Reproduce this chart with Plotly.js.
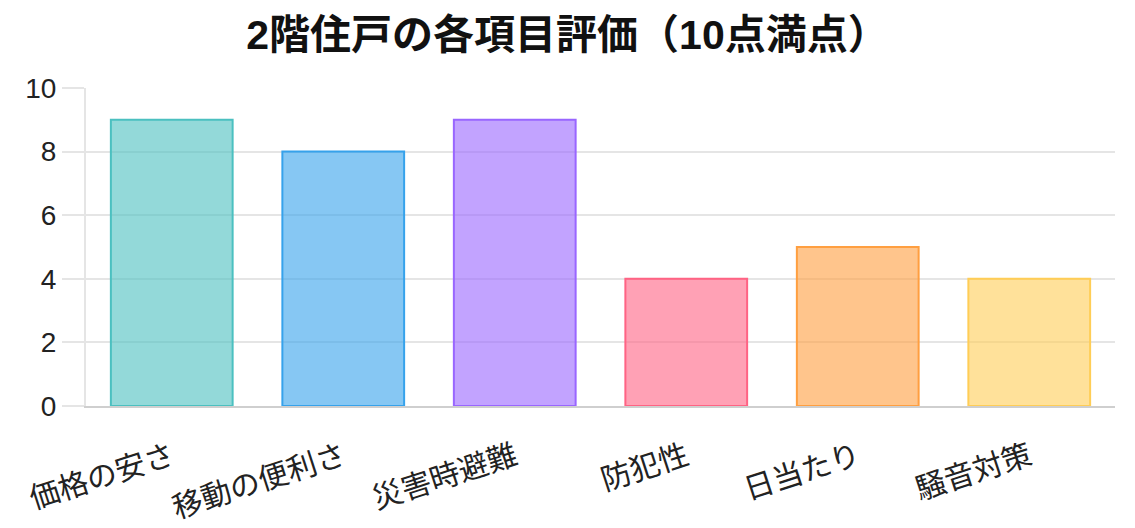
<!DOCTYPE html>
<html>
<head>
<meta charset="utf-8">
<script src="https://cdn.plot.ly/plotly-3.0.1.min.js"></script>
<style>html,body{margin:0;padding:0;background:#fff;}#chart{width:1135px;height:528px;}</style>
</head>
<body>
<div id="chart"></div>
<script>
const categories = ["価格の安さ", "移動の便利さ", "災害時避難", "防犯性", "日当たり", "騒音対策"];
const scores = [9, 8, 9, 4, 5, 4];
const fillColors = ["rgba(75,192,192,0.6)", "rgba(54,162,235,0.6)", "rgba(153,102,255,0.6)", "rgba(255,99,132,0.6)", "rgba(255,159,64,0.6)", "rgba(255,205,86,0.6)"];
const lineColors = ["rgb(75,192,192)", "rgb(54,162,235)", "rgb(153,102,255)", "rgb(255,99,132)", "rgb(255,159,64)", "rgb(255,205,86)"];
const yTicks = [0, 2, 4, 6, 8, 10];

const font = "Liberation Sans, Arial, Noto Sans CJK JP, sans-serif";

Plotly.newPlot("chart", [{
  type: "bar",
  x: categories,
  y: scores,
  marker: {color: fillColors, line: {color: lineColors, width: 2}},
  hoverinfo: "x+y"
}], {
  width: 1135, height: 528,
  margin: {l: 86, r: 20, t: 88, b: 122},
  paper_bgcolor: "#fff", plot_bgcolor: "#fff",
  bargap: 0.29,
  showlegend: false,
  title: {text: "<b>2階住戸の各項目評価（10点満点）</b>", x: 0.5, xanchor: "center", y: 0.934, yanchor: "middle",
          font: {family: font, size: 41, color: "#111"}},
  xaxis: {
    type: "category", range: [-0.5, 5.5],
    tickangle: -18,
    tickfont: {family: font, size: 30, color: "#222"},
    showgrid: false, zeroline: false,
    showline: true, linecolor: "#cfcfcf", linewidth: 2,
    ticks: "outside", ticklen: 20, tickcolor: "rgba(0,0,0,0)",
    fixedrange: true
  },
  yaxis: {
    range: [0, 10],
    tickvals: yTicks,
    tickfont: {family: font, size: 28, color: "#222"},
    showgrid: true, gridcolor: "#e5e5e5", gridwidth: 2,
    zeroline: false,
    showline: true, linecolor: "#e5e5e5", linewidth: 2,
    ticks: "outside", ticklen: 22, tickcolor: "#e5e5e5", tickwidth: 2,
    fixedrange: true
  }
}, {displayModeBar: false, staticPlot: true});
</script>
</body>
</html>
